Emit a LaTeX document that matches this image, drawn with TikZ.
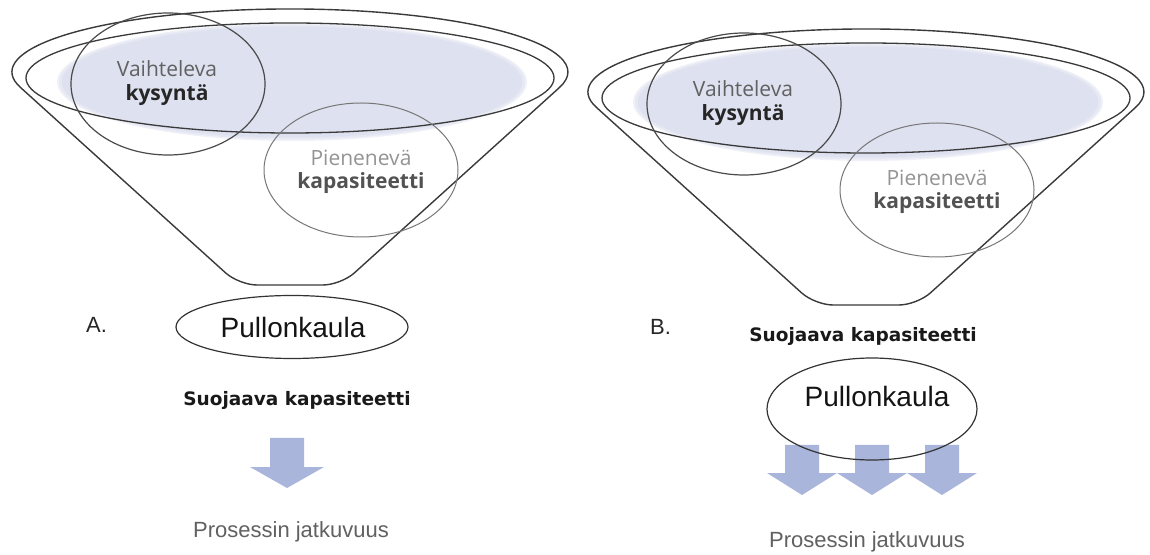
\documentclass[tikz,border=0pt]{standalone}
\usepackage{fontspec}
\setmainfont{Liberation Sans}
\newfontfamily\rimfont{Open Sans}
\newfontfamily\shieldfont{DejaVu Sans}
\usetikzlibrary{shapes.geometric}

\definecolor{rimfill}{HTML}{DEE1EF}
\definecolor{rimline}{HTML}{3A3A3A}
\definecolor{demandline}{HTML}{4A4A4A}
\definecolor{capline}{HTML}{777777}
\definecolor{arrowblue}{HTML}{A9B5DB}

\tikzset{
  funnel/.style={draw=rimline, line width=1.4pt, line cap=round},
  innerrim/.style={draw=rimline, line width=1.3pt},
  demandring/.style={draw=demandline, line width=1.2pt},
  capring/.style={draw=capline, line width=1.0pt},
  rimlight/.style={font=\rimfont\fontsize{21}{21}\selectfont, text=black!62, inner sep=0pt},
  rimbold/.style={font=\rimfont\bfseries\fontsize{21}{21}\selectfont, text=black!85, inner sep=0pt},
  caplight/.style={font=\rimfont\fontsize{21}{21}\selectfont, text=black!42, inner sep=0pt},
  capbold/.style={font=\rimfont\bfseries\fontsize{21}{21}\selectfont, text=black!68, inner sep=0pt},
  panellabel/.style={font=\fontsize{22}{22}\selectfont, text=black!85, inner sep=0pt},
  shieldtext/.style={font=\shieldfont\bfseries\fontsize{18.5}{18.5}\selectfont, text=black!90, inner sep=0pt},
  necktext/.style={font=\fontsize{28}{28}\selectfont, text=black!92, inner sep=0pt},
  neckring/.style={ellipse, draw=black!80, line width=1.2pt, inner sep=0pt},
  flowtext/.style={font=\fontsize{22}{22}\selectfont, text=black!62, inner sep=0pt},
  pics/blockarrow/.style n args={4}{code={
    \fill[arrowblue] (-#1,0) -- (#1,0) -- (#1,-#3) -- (#2,-#3)
      -- (0,-#3-#4) -- (-#2,-#3) -- (-#1,-#3) -- cycle;
  }},
  pics/funnelset/.style={code={
    % shaded surface (soft edge) and rims of the funnel
    \fill[rimfill!45] (292,472) ellipse [x radius=235, y radius=59];
    \fill[rimfill!75] (292,472) ellipse [x radius=233, y radius=57.5];
    \fill[rimfill] (292,472) ellipse [x radius=230, y radius=55.5];
    \draw[innerrim] (290,476) ellipse [x radius=264, y radius=55];
    \draw[funnel] (20.3,466.7) arc [start angle=194.07, end angle=-14.07,
      x radius=278, y radius=63];
    \draw[funnel, rounded corners=18pt] (559.7,466.7) -- (341,269)
      -- (239,269) -- (20.3,466.7);
    % the two overlapping rings
    \draw[demandring] (168,470) ellipse [x radius=97, y radius=71];
    \draw[capring] (361,384) ellipse [x radius=97, y radius=67];
    \node[rimlight, anchor=base] (vai) at (167,477) {Vaihteleva};
    \node[rimbold, anchor=base] (kys) at (167,453) {kysyntä};
    \node[caplight, anchor=base] (pie) at (361,388) {Pienenevä};
    \node[capbold, anchor=base] (kap) at (361,365) {kapasiteetti};
  }}
}

\begin{document}
\begin{tikzpicture}[x=1pt,y=1pt]
  \useasboundingbox (0,0) rectangle (1150,554);
  \fill[white] (0,0) rectangle (1150,554);

  % ---- panel A ----
  \pic (fa) at (0,0) {funnelset};
  \node[panellabel, anchor=base west] (labA) at (86,221) {A.};
  \node[neckring, minimum width=232pt, minimum height=63pt] (neckA) at (292,227) {};
  \node[necktext, anchor=base] (ntA) at (293,216) {Pullonkaula};
  \node[shieldtext, anchor=base] (shA) at (297,148) {Suojaava kapasiteetti};
  \pic at (287,116) {blockarrow={17}{37}{29}{21}};
  \node[flowtext, anchor=base] (prA) at (291,17) {Prosessin jatkuvuus};

  % ---- panel B ----
  \pic (fb) at (576,-20) {funnelset};
  \node[panellabel, anchor=base west] (labB) at (650,219) {B.};
  \node[shieldtext, anchor=base] (shB) at (863,212) {Suojaava kapasiteetti};
  \pic at (802,109) {blockarrow={17}{35}{28}{22}};
  \pic at (872,109) {blockarrow={17}{35}{28}{22}};
  \pic at (942,109) {blockarrow={17}{35}{28}{22}};
  \node[neckring, minimum width=210pt, minimum height=102pt] (neckB) at (872,145) {};
  \node[necktext, anchor=base] (ntB) at (877,147) {Pullonkaula};
  \node[flowtext, anchor=base] (prB) at (867,7) {Prosessin jatkuvuus};
\end{tikzpicture}
\end{document}
